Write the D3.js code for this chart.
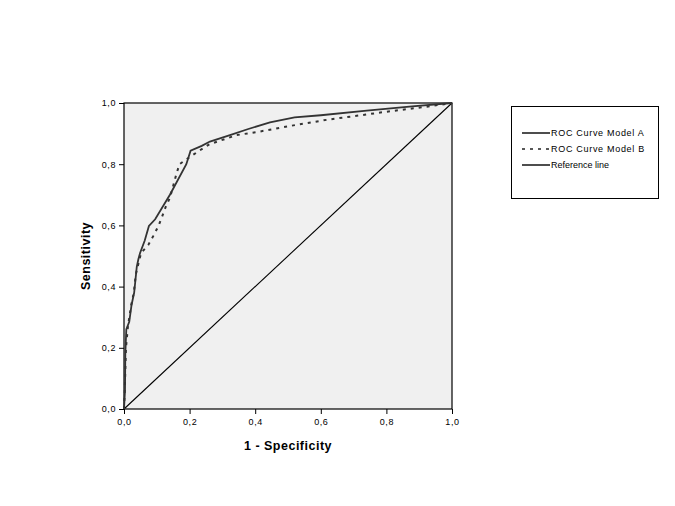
<!DOCTYPE html>
<html>
<head>
<meta charset="utf-8">
<script src="https://cdn.jsdelivr.net/npm/d3@7"></script>
<style>
  body { margin: 0; background: #fff; }
  text { font-family: "Liberation Sans", Arial, sans-serif; }
</style>
</head>
<body>
<div id="chart"></div>
<script>
// ROC curve points (1 - specificity, sensitivity)
const fprA = [0, 0.003, 0.004, 0.007, 0.016, 0.023, 0.031, 0.039, 0.044, 0.049, 0.063, 0.076, 0.095, 0.14, 0.19, 0.203, 0.237, 0.262, 0.323, 0.379, 0.445, 0.52, 0.6, 0.74, 0.87, 1]
const tprA = [0, 0.06, 0.18, 0.26, 0.285, 0.34, 0.38, 0.465, 0.49, 0.51, 0.55, 0.598, 0.62, 0.70, 0.80, 0.844, 0.86, 0.874, 0.895, 0.915, 0.937, 0.953, 0.96, 0.975, 0.988, 1]

const fprB = [0, 0.002, 0.006, 0.012, 0.022, 0.03, 0.036, 0.052, 0.074, 0.089, 0.105, 0.117, 0.128, 0.14, 0.159, 0.169, 0.221, 0.26, 0.343, 0.41, 0.506, 0.618, 0.79, 0.923, 1]
const tprB = [0, 0.05, 0.2, 0.27, 0.34, 0.38, 0.44, 0.51, 0.536, 0.565, 0.598, 0.631, 0.663, 0.69, 0.765, 0.80, 0.838, 0.865, 0.895, 0.906, 0.925, 0.945, 0.97, 0.988, 1]

const refLine = [0, 1]
const ticks = [0, 0.2, 0.4, 0.6, 0.8, 1.0]
const legendLabels = ['ROC Curve Model A', 'ROC Curve Model B', 'Reference line']

let width = 675
let height = 506
let plotLeft = 124, plotRight = 452, plotTop = 103, plotBottom = 409

const x = d3.scaleLinear().domain([0, 1]).range([plotLeft, plotRight])
const y = d3.scaleLinear().domain([0, 1]).range([plotBottom, plotTop])
const fmt = d => d3.format('.1f')(d).replace('.', ',')

const svg = d3.select('#chart').append('svg')
  .attr('width', width)
  .attr('height', height)

// plot background
svg.append('rect')
  .attr('x', plotLeft).attr('y', plotTop)
  .attr('width', plotRight - plotLeft).attr('height', plotBottom - plotTop)
  .attr('fill', '#f0f0f0')

// axes
const xAxis = svg.append('g')
  .attr('transform', `translate(0,${plotBottom})`)
  .call(d3.axisBottom(x).tickValues(ticks).tickFormat(fmt).tickSize(5).tickSizeOuter(0))
const yAxis = svg.append('g')
  .attr('transform', `translate(${plotLeft},0)`)
  .call(d3.axisLeft(y).tickValues(ticks).tickFormat(fmt).tickSize(5).tickSizeOuter(0))

for (const ax of [xAxis, yAxis]) {
  ax.select('.domain').remove()
  ax.selectAll('line').attr('stroke', '#000')
  ax.selectAll('text').attr('font-size', 9).attr('fill', '#000')
    .style('font-family', '"Liberation Sans", Arial, sans-serif')
    .attr('letter-spacing', 0.6)
}
xAxis.selectAll('text').attr('dy', '0.9em')

// frame
svg.append('rect')
  .attr('x', plotLeft).attr('y', plotTop)
  .attr('width', plotRight - plotLeft).attr('height', plotBottom - plotTop)
  .attr('fill', 'none').attr('stroke', '#000').attr('stroke-width', 1.2)

const line = d3.line().x(d => x(d[0])).y(d => y(d[1]))

// reference diagonal
svg.append('path')
  .datum(refLine.map(v => [v, v]))
  .attr('d', line)
  .attr('fill', 'none').attr('stroke', '#000').attr('stroke-width', 1.1)

// model B (dashed)
svg.append('path')
  .datum(fprB.map((v, i) => [v, tprB[i]]))
  .attr('d', line)
  .attr('fill', 'none').attr('stroke', '#333').attr('stroke-width', 2)
  .attr('stroke-dasharray', '3,5')

// model A (solid)
svg.append('path')
  .datum(fprA.map((v, i) => [v, tprA[i]]))
  .attr('d', line)
  .attr('fill', 'none').attr('stroke', '#333').attr('stroke-width', 1.8)

// axis titles
svg.append('text')
  .attr('x', (plotLeft + plotRight) / 2).attr('y', 450)
  .attr('text-anchor', 'middle')
  .attr('font-size', 12.5).attr('font-weight', 'bold')
  .attr('letter-spacing', 0.5)
  .text('1 - Specificity')

svg.append('text')
  .attr('transform', `translate(90,${(plotTop + plotBottom) / 2}) rotate(-90)`)
  .attr('text-anchor', 'middle')
  .attr('font-size', 12.5).attr('font-weight', 'bold')
  .attr('letter-spacing', 0.5)
  .text('Sensitivity')

// legend
const legend = svg.append('g')
legend.append('rect')
  .attr('x', 511.5).attr('y', 106.5)
  .attr('width', 147).attr('height', 92)
  .attr('fill', '#fff').attr('stroke', '#000').attr('stroke-width', 1)

const item = legend.selectAll('g.item')
  .data(legendLabels)
  .enter()
  .append('g')
  .attr('transform', (d, i) => `translate(522,${133 + i * 16})`)

item.append('line')
  .attr('x1', 0).attr('x2', 28)
  .attr('stroke', '#222').attr('stroke-width', 1.6)
  .attr('stroke-dasharray', (d, i) => i === 1 ? '3,5' : null)

item.append('text')
  .attr('x', 29).attr('dy', '0.35em')
  .attr('font-size', 9)
  .attr('letter-spacing', (d, i) => i === 2 ? 0 : 0.7)
  .text(d => d)
</script>
</body>
</html>
